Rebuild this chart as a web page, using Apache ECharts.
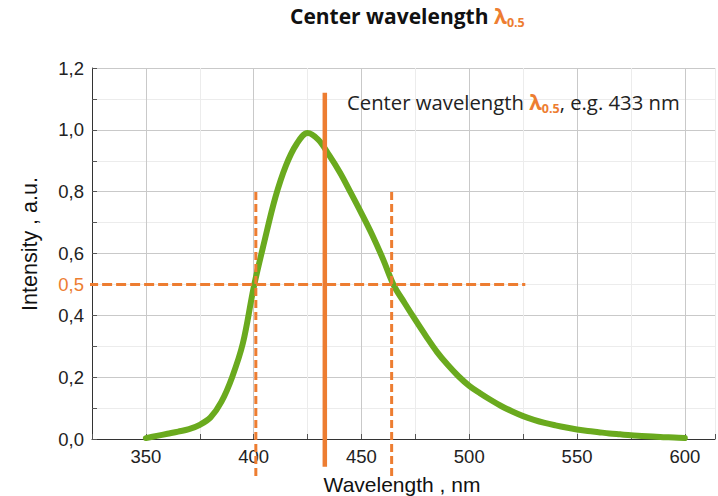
<!DOCTYPE html>
<html>
<head>
<meta charset="utf-8">
<script src="https://cdn.jsdelivr.net/npm/echarts@6/dist/echarts.min.js"></script>
<style>html,body{margin:0;padding:0;background:#fff}#c{width:718px;height:496px}</style>
</head>
<body>
<div id="c"></div>
<script>
// ---- data ----
var wavelengths = [350,355,360,365,370,375,380,385,390,395,400,405,410,415,420,425,430,435,440,445,450,455,460,465,470,475,480,485,490,495,500,505,510,515,520,525,530,535,540,545,550,555,560,565,570,575,580,585,590,595,600];
var intensity   = [0.003,0.010,0.017,0.024,0.032,0.046,0.070,0.120,0.200,0.310,0.490,0.640,0.780,0.885,0.955,0.990,0.968,0.918,0.862,0.797,0.730,0.660,0.582,0.497,0.440,0.385,0.332,0.282,0.240,0.203,0.172,0.148,0.126,0.106,0.089,0.074,0.062,0.052,0.044,0.037,0.031,0.026,0.022,0.018,0.015,0.012,0.010,0.008,0.006,0.005,0.003];
var halfLevel = 0.5;
var halfLevelX = [323.2, 526];
var fwhmLeft = 401;
var fwhmRight = 464;
var centerWl = 433;
var dashedY = [-0.12, 0.8];
var centerY = [-0.09, 1.12];
var xTicks = [350,400,450,500,550,600];
var yTicks = ['0,0','0,2','0,4','0,6','0,8','1,0','1,2'];

var ORANGE = '#ed7d31';
var GREEN = '#6aaa1e';

var chart = echarts.init(document.getElementById('c'), null, {renderer: 'svg'});

function pairs(xs, ys){ return xs.map(function(x,i){ return [x, ys[i]]; }); }

var option = {
  animation: false,
  backgroundColor: '#fff',
  grid: {left: 92, top: 68, right: 0, bottom: 57, containLabel: false},
  xAxis: {
    type: 'value', min: 325, max: 614, interval: 25,
    axisLine: {show: true, lineStyle: {color: '#333', width: 1}},
    axisTick: {show: true, inside: true, length: 5, lineStyle: {color: '#555'}},
    axisLabel: {
      color: '#222', fontSize: 18.5, fontFamily: 'Liberation Sans, Arial, sans-serif', margin: 8,
      formatter: function(v){ return xTicks.indexOf(Math.round(v)) >= 0 ? String(Math.round(v)) : ''; }
    },
    splitLine: {show: true, lineStyle: {color: ['#ececec', '#c9c9c9'], width: 1}}
  },
  yAxis: {
    type: 'value', min: 0, max: 1.2, interval: 0.1,
    axisLine: {show: true, lineStyle: {color: '#333', width: 1}},
    axisTick: {show: true, inside: true, length: 5, lineStyle: {color: '#555'}},
    axisLabel: {
      color: '#222', fontSize: 18.5, fontFamily: 'Liberation Sans, Arial, sans-serif', margin: 8,
      formatter: function(v){
        var r = Math.round(v * 10);
        if (r === Math.round(halfLevel * 10)) return '{o|0,5}';
        if (r % 2 === 0) return yTicks[r / 2];
        return '';
      },
      rich: {o: {color: ORANGE, fontSize: 18.5, fontFamily: 'Liberation Sans, Arial, sans-serif'}}
    },
    splitLine: {show: true, lineStyle: {color: ['#c9c9c9', '#ececec'], width: 1}}
  },
  series: [
    {
      type: 'line', data: pairs(wavelengths, intensity), smooth: 0.35, symbol: 'none',
      lineStyle: {color: GREEN, width: 6, cap: 'round', join: 'round'}, z: 3, silent: true
    },
    {
      type: 'line', data: pairs(halfLevelX, [halfLevel, halfLevel]), symbol: 'none', clip: false,
      lineStyle: {color: ORANGE, width: 3, type: [10, 4]}, z: 4, silent: true
    },
    {
      type: 'line', data: pairs([fwhmLeft, fwhmLeft], dashedY), symbol: 'none', clip: false,
      lineStyle: {color: ORANGE, width: 3, type: [8, 4]}, z: 4, silent: true
    },
    {
      type: 'line', data: pairs([fwhmRight, fwhmRight], dashedY), symbol: 'none', clip: false,
      lineStyle: {color: ORANGE, width: 3, type: [8, 4]}, z: 4, silent: true
    },
    {
      type: 'line', data: pairs([centerWl, centerWl], centerY), symbol: 'none', clip: false,
      lineStyle: {color: ORANGE, width: 4.5}, z: 4, silent: true
    }
  ],
  graphic: [
    {
      type: 'text', left: 290, top: 5, z: 10,
      style: {
        text: '{a|Center wavelength }{l|λ}{s|0.5}',
        rich: {
          a: {fontFamily: 'Open Sans, sans-serif', fontWeight: 'bold', fontSize: 21, fill: '#111', lineHeight: 27, verticalAlign: 'middle'},
          l: {fontFamily: 'Open Sans, sans-serif', fontWeight: 'bold', fontSize: 21, fill: ORANGE, lineHeight: 27, verticalAlign: 'middle'},
          s: {fontFamily: 'Open Sans, sans-serif', fontWeight: 'bold', fontSize: 12.5, fill: ORANGE, lineHeight: 27, verticalAlign: 'bottom'}
        }
      }
    },
    {
      type: 'text', left: 347, top: 91, z: 10,
      style: {
        text: '{a|Center wavelength }{l|λ}{s|0.5}{a|, e.g. 433 nm}',
        rich: {
          a: {fontFamily: 'Open Sans, sans-serif', fontSize: 20.3, fill: '#222', lineHeight: 26, verticalAlign: 'middle'},
          l: {fontFamily: 'Open Sans, sans-serif', fontWeight: 'bold', fontSize: 20.5, fill: ORANGE, lineHeight: 26, verticalAlign: 'middle'},
          s: {fontFamily: 'Open Sans, sans-serif', fontWeight: 'bold', fontSize: 12.5, fill: ORANGE, lineHeight: 26, verticalAlign: 'bottom'}
        }
      }
    },
    {
      type: 'text', x: 402, y: 484, z: 10,
      style: {text: 'Wavelength , nm', fontFamily: 'Liberation Sans, Arial, sans-serif', fontSize: 21, fill: '#111', textAlign: 'center', textVerticalAlign: 'middle'}
    },
    {
      type: 'text', x: 30, y: 244, rotation: Math.PI / 2, z: 10,
      style: {text: 'Intensity , a.u.', fontFamily: 'Liberation Sans, Arial, sans-serif', fontSize: 21.5, fill: '#111', textAlign: 'center', textVerticalAlign: 'middle'}
    }
  ]
};
chart.setOption(option);
</script>
</body>
</html>
